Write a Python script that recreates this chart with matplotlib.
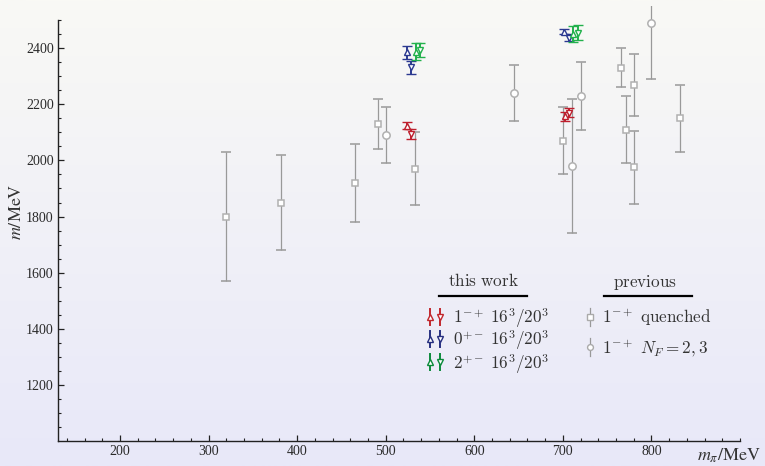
import numpy as np
import matplotlib
matplotlib.use("Agg")
import matplotlib.pyplot as plt
from matplotlib.lines import Line2D

# ---------------- data ----------------
# previous: 1^{-+} quenched (squares)
q_mpi = [320, 382, 465, 491, 533, 700, 766, 771, 780, 780, 832]
q_m   = [1800, 1850, 1920, 2130, 1970, 2070, 2330, 2110, 2270, 1975, 2150]
q_err = [230, 170, 140, 90, 130, 120, 70, 120, 110, 130, 120]

# previous: 1^{-+} N_F = 2,3 (circles)
nf_mpi = [500, 645, 710, 720, 800]
nf_m   = [2090, 2240, 1980, 2230, 2490]
nf_err = [100, 100, 240, 120, 200]

# this work, 16^3 (up triangles) and 20^3 (down triangles)
r16_mpi, r16_m, r16_err = [524, 702], [2124, 2157], [12, 15]
r20_mpi, r20_m, r20_err = [529, 707], [2093, 2170], [18, 16]
b16_mpi, b16_m, b16_err = [524, 701], [2385, 2459], [22, 10]
b20_mpi, b20_m, b20_err = [529, 707], [2332, 2438], [23, 11]
g16_mpi, g16_m, g16_err = [534, 712], [2388, 2450], [30, 28]
g20_mpi, g20_m, g20_err = [539, 717], [2395, 2455], [25, 27]

xticks = [200, 300, 400, 500, 600, 700, 800]
yticks = [1200, 1400, 1600, 1800, 2000, 2200, 2400]

# ---------------- figure ----------------
W, H = 765, 466
fig = plt.figure(figsize=(W / 100, H / 100), dpi=100)

bg = fig.add_axes([0, 0, 1, 1], zorder=-10)
top = np.array([249, 249, 245]) / 255.0
bot = np.array([232, 232, 249]) / 255.0
t = np.linspace(0, 1, 256)[:, None, None]
grad = top[None, None, :] * (1 - t) + bot[None, None, :] * t
bg.imshow(grad, aspect='auto', extent=[0, 1, 0, 1], origin='upper')
bg.set_axis_off()

ax = fig.add_axes([58 / W, 25 / H, 682 / W, 434.9 / H])
ax.patch.set_alpha(0)
ax.set_xlim(130, 900)
ax.set_ylim(1000, 2550)

for s in ['top', 'right']:
    ax.spines[s].set_visible(False)
ax.spines['left'].set_bounds(1000, 2500)
ax.spines['bottom'].set_bounds(130, 900)
for s in ['left', 'bottom']:
    ax.spines[s].set_linewidth(1.0)
    ax.spines[s].set_color('#222222')

ax.set_xticks(xticks)
ax.set_xticklabels([str(v) for v in xticks])
ax.set_yticks(yticks)
ax.set_yticklabels([str(v) for v in yticks])
ax.set_xticks(np.arange(140, 901, 20), minor=True)
ax.set_yticks(np.arange(1050, 2501, 50), minor=True)
ax.tick_params(which='major', direction='in', length=4, width=0.9, color='#222222',
               labelsize=10, pad=3, labelcolor='#2a2a2a')
ax.tick_params(which='minor', direction='in', length=2.3, width=0.8, color='#222222')
for lab in ax.get_xticklabels() + ax.get_yticklabels():
    lab.set_family('Liberation Serif')

gray = '#999999'
ax.errorbar(q_mpi, q_m, yerr=q_err, fmt='s', ms=5, mfc='white', mec='#b0b0b0', mew=1.1,
            ecolor=gray, elinewidth=0.9, capsize=3.6, capthick=0.9, zorder=3)
ax.errorbar(nf_mpi, nf_m, yerr=nf_err, fmt='o', ms=5.3, mfc='white', mec='#b0b0b0', mew=1.1,
            ecolor=gray, elinewidth=0.9, capsize=3.6, capthick=0.9, zorder=3)

red = '#be1e2d'
blue = '#2b3990'
green = '#22b14c'
series = [
    (r16_mpi, r16_m, r16_err, red, '^'),
    (r20_mpi, r20_m, r20_err, red, 'v'),
    (b16_mpi, b16_m, b16_err, blue, '^'),
    (b20_mpi, b20_m, b20_err, blue, 'v'),
    (g16_mpi, g16_m, g16_err, green, '^'),
    (g20_mpi, g20_m, g20_err, green, 'v'),
]
for xs, ys, es, c, mk in series:
    ax.errorbar(xs, ys, yerr=es, fmt=mk, ms=4.5, mfc='white', mec=c, mew=1.0,
                ecolor=c, elinewidth=1.4, capsize=3.8, capthick=1.4, zorder=4)

# axis labels
fig.text(16 / W, 1 - 212 / H, r'$m/\mathrm{MeV}$', rotation=90, ha='center', va='center',
         fontsize=13, math_fontfamily='stix', color='#333333')
fig.text(729 / W, 1 - 456 / H, r'$m_\pi/\mathrm{MeV}$', ha='center', va='center',
         fontsize=13, math_fontfamily='stix', color='#333333')

# ---------------- legend ----------------
def P(x, y):
    return x / W, 1 - y / H

def txt(x, y, s, ha='left'):
    fx, fy = P(x, y)
    fig.text(fx, fy, s, ha=ha, va='baseline', fontsize=12.3, math_fontfamily='cm',
             color='#333333')

def rule(x0, x1, y):
    (a, yy), (b, _) = P(x0, y), P(x1, y)
    fig.add_artist(Line2D([a, b], [yy, yy], color='black', lw=1.6, transform=fig.transFigure))

def glyph(x, y, c, mk, ms=4.2, half=8, lw=1.4, mec=None):
    fx, fy0 = P(x, y - half)
    _, fy1 = P(x, y + half)
    fig.add_artist(Line2D([fx, fx], [fy0, fy1], color=c, lw=lw, transform=fig.transFigure))
    _, fy = P(x, y)
    fig.add_artist(Line2D([fx], [fy], marker=mk, ms=ms, mfc='white', mec=mec or c, mew=1.0,
                          transform=fig.transFigure))

txt(483, 286.5, r'$\mathrm{this\ work}$', ha='center')
rule(439, 527, 295.5)
txt(645, 286.5, r'$\mathrm{previous}$', ha='center')
rule(604, 692, 295.5)

leg_red, leg_blue, leg_green = '#c1272d', '#262f80', '#0b8a3b'
rows = [(316.5, leg_red, r'$1^{-+}\;16^3/20^3$'),
        (339.0, leg_blue, r'$0^{+-}\;16^3/20^3$'),
        (362.0, leg_green, r'$2^{+-}\;16^3/20^3$')]
for y, c, s in rows:
    glyph(429.5, y, c, '^')
    glyph(440.5, y, c, 'v')
    txt(453, y + 6.5, s)

glyph(590, 317, gray, 's', ms=3.8, half=9, lw=0.9, mec='#aaaaaa')
txt(601.5, 323.5, r'$1^{-+}\ \mathrm{quenched}$')
glyph(590, 347, gray, 'o', ms=4.2, half=9, lw=0.9, mec='#aaaaaa')
txt(601.5, 353.5, r'$1^{-+}\ N_F=2,3$')

fig.savefig('out.png', dpi=100)
